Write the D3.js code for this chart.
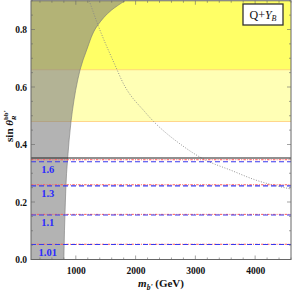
<!DOCTYPE html>
<html><head><meta charset="utf-8">
<script src="https://cdn.jsdelivr.net/npm/d3@7"></script>
<style>html,body{margin:0;padding:0;background:#fff;}svg{display:block;}</style>
</head><body>
<svg id="c" width="292" height="292"></svg>
<script>
// ---- data ----
const xTicks = [1000, 2000, 3000, 4000];
const yTicks = [0, 0.2, 0.4, 0.6, 0.8];
const bandLow = 0.48, bandHigh = 0.66;        // yellow bands
const grayM = [800, 810, 825, 845, 864, 919, 1031, 1070, 1182, 1370, 1600, 1823];
const grayS = [0, 0.1, 0.2, 0.3, 0.353, 0.479, 0.624, 0.659, 0.729, 0.816, 0.868, 0.9];
const curveM = [1225, 1370, 1690, 1767, 2170, 2790, 3120, 3600, 4000, 4600];
const curveS = [0.9, 0.816, 0.66, 0.624, 0.51, 0.395, 0.351, 0.31, 0.277, 0.245];
const contourLabels = ["1.6", "1.3", "1.1", "1.01"];
const blueLevels = [0.340, 0.256, 0.155, 0.052];
const redLevels = [0.347, 0.260, 0.157, 0.053];
const blackLevel = 0.353;
const legendText = "Q+Y_B";

// ---- layout ----
const svg = d3.select("#c");
const L = 31, R = 291, T = 0.75, B = 259.5;
const x = d3.scaleLinear().domain([250, 4600]).range([L, R]);
const y = d3.scaleLinear().domain([0, 0.9]).range([B, T]);

svg.append("defs").append("clipPath").attr("id", "clip")
  .append("rect").attr("x", L).attr("y", T).attr("width", R - L).attr("height", B - T);
const g = svg.append("g").attr("clip-path", "url(#clip)");

// yellow bands
g.append("rect").attr("x", L).attr("width", R - L)
  .attr("y", y(0.9)).attr("height", y(bandLow) - y(0.9)).attr("fill", "#ffffb5");
g.append("rect").attr("x", L).attr("width", R - L)
  .attr("y", y(0.9)).attr("height", y(bandHigh) - y(0.9)).attr("fill", "#ffff66");
[bandLow, bandHigh].forEach(v => {
  g.append("line").attr("x1", L).attr("x2", R).attr("y1", y(v)).attr("y2", y(v))
    .attr("stroke", "#ffcc77").attr("stroke-width", 0.8);
});

// gray excluded region
const grayPts = grayM.map((m, i) => [m, grayS[i]]);
g.append("path").datum(grayPts)
  .attr("d", d3.area().curve(d3.curveMonotoneY)
    .y(d => y(d[1])).x0(x(250)).x1(d => x(d[0])))
  .attr("fill", "#808080").attr("fill-opacity", 0.6);
g.append("path").datum(grayPts)
  .attr("d", d3.line().curve(d3.curveMonotoneY).x(d => x(d[0])).y(d => y(d[1])))
  .attr("fill", "none").attr("stroke", "#777").attr("stroke-width", 0.6);

// dotted curve
const curvePts = curveM.map((m, i) => [m, curveS[i]]);
g.append("path").datum(curvePts)
  .attr("d", d3.line().curve(d3.curveMonotoneX).x(d => x(d[0])).y(d => y(d[1])))
  .attr("fill", "none").attr("stroke", "#888").attr("stroke-width", 0.9)
  .attr("stroke-dasharray", "1,1.6");

// contour lines
redLevels.forEach(v => {
  g.append("line").attr("x1", L).attr("x2", R).attr("y1", y(v)).attr("y2", y(v))
    .attr("stroke", "#ff5a5a").attr("stroke-width", 1).attr("stroke-dasharray", "2.5,1.2,1,1.2");
});
blueLevels.forEach(v => {
  g.append("line").attr("x1", L).attr("x2", R).attr("y1", y(v)).attr("y2", y(v))
    .attr("stroke", "#3a3aee").attr("stroke-width", 1.1).attr("stroke-dasharray", "5,3");
});
g.append("line").attr("x1", L).attr("x2", R).attr("y1", y(blackLevel)).attr("y2", y(blackLevel))
  .attr("stroke", "#222").attr("stroke-width", 1.2);

// contour labels
contourLabels.forEach((t, i) => {
  svg.append("text").attr("x", x(530)).attr("y", y(blueLevels[i]) + 8)
    .attr("text-anchor", "middle").attr("dominant-baseline", "central")
    .attr("font-family", "Liberation Serif").attr("font-weight", "bold")
    .attr("font-size", 10.5).attr("fill", "#2a2aff").text(t);
});

// frame
svg.append("rect").attr("x", L).attr("y", T).attr("width", R - L).attr("height", B - T)
  .attr("fill", "none").attr("stroke", "#666").attr("stroke-width", 1);

// ticks
const frameColor = "#666";
const xMinor = d3.range(400, 4601, 200);
const yMinor = d3.range(0, 0.9001, 0.05);
xMinor.forEach(v => {
  const len = xTicks.includes(Math.round(v)) ? 4 : 2;
  svg.append("line").attr("x1", x(v)).attr("x2", x(v)).attr("y1", B).attr("y2", B - len).attr("stroke", frameColor).attr("stroke-width", 0.6);
  svg.append("line").attr("x1", x(v)).attr("x2", x(v)).attr("y1", T).attr("y2", T + len).attr("stroke", frameColor).attr("stroke-width", 0.6);
});
yMinor.forEach(v => {
  const major = yTicks.some(t => Math.abs(t - v) < 1e-6);
  const len = major ? 4 : 2;
  svg.append("line").attr("x1", L).attr("x2", L + len).attr("y1", y(v)).attr("y2", y(v)).attr("stroke", frameColor).attr("stroke-width", 0.6);
  svg.append("line").attr("x1", R).attr("x2", R - len).attr("y1", y(v)).attr("y2", y(v)).attr("stroke", frameColor).attr("stroke-width", 0.6);
});

// tick labels
const xAxis = d3.axisBottom(x).tickValues(xTicks).tickSize(0).tickPadding(0).tickFormat(d3.format("d"));
const xa = svg.append("g").attr("transform", `translate(0,${B + 8})`).call(xAxis);
xa.select(".domain").remove();
xa.selectAll("text").attr("font-family", "Liberation Serif").attr("font-weight", "bold")
  .attr("font-size", 9.5).attr("fill", "#111");

const yAxis = d3.axisLeft(y).tickValues(yTicks).tickSize(0).tickPadding(0).tickFormat(d3.format(".1f"));
const ya = svg.append("g").attr("transform", `translate(${L - 4},0)`).call(yAxis);
ya.select(".domain").remove();
ya.selectAll("text").attr("font-family", "Liberation Serif").attr("font-weight", "bold")
  .attr("font-size", 9.5).attr("fill", "#111");

// x label
const xl = svg.append("text").attr("x", (L + R) / 2).attr("y", 287).attr("text-anchor", "middle")
  .attr("font-family", "Liberation Serif").attr("font-weight", "bold").attr("font-size", 11).attr("fill", "#111");
xl.append("tspan").attr("font-style", "italic").text("m");
xl.append("tspan").attr("font-style", "italic").attr("font-size", 7.5).attr("dy", 2.5).text("b'");
xl.append("tspan").attr("dy", -2.5).text(" (GeV)");

// y label
const yl = svg.append("text").attr("transform", `translate(13,${(T + B) / 2 - 4}) rotate(-90)`)
  .attr("text-anchor", "middle").attr("font-family", "Liberation Serif").attr("font-weight", "bold")
  .attr("font-size", 11).attr("fill", "#111");
yl.append("tspan").text("sin ");
yl.append("tspan").attr("font-style", "italic").text("θ");
yl.append("tspan").attr("font-size", 7).attr("dy", -5).text("bb'");
yl.append("tspan").attr("font-size", 7).attr("font-style", "italic").attr("dx", -10).attr("dy", 8).text("R");

// legend box
const lg = svg.append("g");
lg.append("rect").attr("x", 243).attr("y", 4).attr("width", 40).attr("height", 21)
  .attr("fill", "#fff").attr("stroke", "#333").attr("stroke-width", 1.3);
const parts = legendText.split("_");
const lt = lg.append("text").attr("x", 263).attr("y", 19).attr("text-anchor", "middle")
  .attr("font-family", "Liberation Serif").attr("font-size", 12).attr("fill", "#111");
lt.append("tspan").text(parts[0].slice(0, 2));
lt.append("tspan").attr("font-style", "italic").text(parts[0].slice(2));
lt.append("tspan").attr("font-style", "italic").attr("font-size", 8).attr("dy", 2).text(parts[1]);
</script>
</body></html>
